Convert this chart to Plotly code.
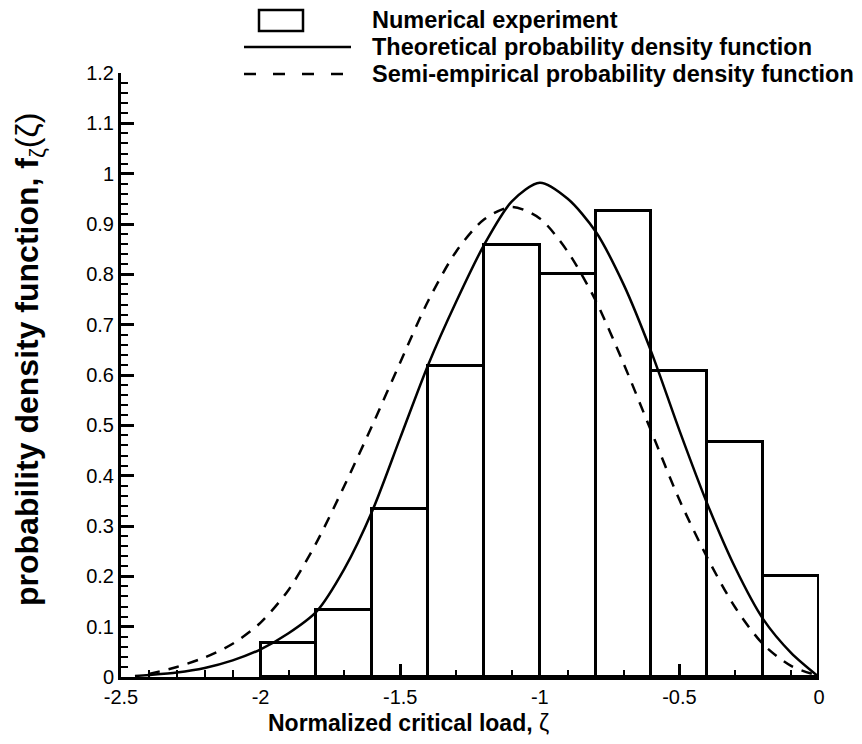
import plotly.graph_objects as go

# ---- data ----
bin_centers = [-1.9, -1.7, -1.5, -1.3, -1.1, -0.9, -0.7, -0.5, -0.3, -0.1]
bin_width = 0.2
bar_density = [0.067, 0.133, 0.333, 0.617, 0.858, 0.800, 0.925, 0.608, 0.467, 0.200]

theory_x = [-2.45, -2.4, -2.3, -2.2, -2.1, -2.0, -1.9, -1.8, -1.7, -1.6, -1.5, -1.4, -1.3,
            -1.2, -1.1, -1.0, -0.9, -0.8, -0.7, -0.6, -0.5, -0.4, -0.3, -0.2, -0.1, 0.0]
theory_y = [0.002, 0.004, 0.009, 0.018, 0.033, 0.055, 0.087, 0.130, 0.215, 0.330, 0.475, 0.620,
            0.745, 0.858, 0.945, 0.982, 0.950, 0.885, 0.780, 0.645, 0.490, 0.344, 0.217, 0.115,
            0.048, 0.0]

semi_x = [-2.4, -2.3, -2.2, -2.1, -2.0, -1.9, -1.8, -1.7, -1.6, -1.5, -1.4, -1.3, -1.2,
          -1.1, -1.0, -0.9, -0.8, -0.7, -0.6, -0.5, -0.4, -0.3, -0.2, -0.1, 0.0]
semi_y = [0.006, 0.020, 0.039, 0.066, 0.108, 0.173, 0.267, 0.380, 0.500, 0.625, 0.747, 0.845,
          0.909, 0.934, 0.911, 0.845, 0.748, 0.623, 0.487, 0.352, 0.237, 0.138, 0.065, 0.022,
          0.002]

x_tick_vals = [-2.5, -2.0, -1.5, -1.0, -0.5, 0.0]
x_tick_text = ["-2.5", "-2", "-1.5", "-1", "-0.5", "0"]
y_tick_vals = [0, 0.1, 0.2, 0.3, 0.4, 0.5, 0.6, 0.7, 0.8, 0.9, 1.0, 1.1, 1.2]
y_tick_text = ["0", "0.1", "0.2", "0.3", "0.4", "0.5", "0.6", "0.7", "0.8", "0.9", "1", "1.1", "1.2"]

legend_labels = ["Numerical experiment",
                 "Theoretical probability density function",
                 "Semi-empirical probability density function"]

FONT = "Liberation Sans, Arial, sans-serif"

fig = go.Figure()
fig.add_trace(go.Bar(
    x=bin_centers, y=bar_density, width=bin_width,
    marker=dict(color="white", line=dict(color="black", width=3)),
    showlegend=False))
fig.add_trace(go.Scatter(
    x=theory_x, y=theory_y, mode="lines",
    line=dict(color="black", width=2.5, shape="spline", smoothing=0.8), showlegend=False))
fig.add_trace(go.Scatter(
    x=semi_x, y=semi_y, mode="lines",
    line=dict(color="black", width=2.5, shape="spline", smoothing=0.8, dash="11px,9px"),
    showlegend=False))

W, H = 862, 744
L, R, T, B = 113, 51, 65, 75
pw, ph = W - L - R, H - T - B


def px(x):
    return (x - L) / pw


def py(y):
    return (H - B - y) / ph


# manual legend
shapes = [
    dict(type="rect", xref="paper", yref="paper", x0=px(251), x1=px(295), y0=py(23), y1=py(2),
         line=dict(color="black", width=2.5), fillcolor="white"),
    dict(type="line", xref="paper", yref="paper", x0=px(236), x1=px(343), y0=py(39), y1=py(39),
         line=dict(color="black", width=2.5)),
    dict(type="line", xref="paper", yref="paper", x0=px(236), x1=px(343), y0=py(66), y1=py(66),
         line=dict(color="black", width=2.5, dash="12px,17px")),
]
annotations = []
for lab, yy in zip(legend_labels, [12, 39, 66]):
    annotations.append(dict(xref="paper", yref="paper", x=px(362), y=py(yy), text="<b>%s</b>" % lab,
                            showarrow=False, xanchor="left", yanchor="middle",
                            font=dict(family=FONT, size=23.5, color="black")))
annotations.append(dict(xref="paper", yref="paper", x=px(400), y=py(715),
                        text="<b>Normalized critical load,</b> ζ", showarrow=False,
                        xanchor="center", yanchor="middle",
                        font=dict(family=FONT, size=23, color="black")))
annotations.append(dict(xref="paper", yref="paper", x=px(21), y=py(352),
                        text="<b>probability density function, f</b><sub>ζ</sub>(ζ)", showarrow=False,
                        textangle=-90, xanchor="center", yanchor="middle",
                        font=dict(family=FONT, size=32, color="black")))

axis_common = dict(showgrid=False, zeroline=False, showline=True, linecolor="black", linewidth=3,
                   ticks="inside", tickcolor="black", tickwidth=3, ticklen=13,
                   tickfont=dict(family=FONT, size=20, color="black"), mirror=False)

fig.update_layout(
    width=W, height=H,
    margin=dict(l=L, r=R, t=T, b=B, autoexpand=False),
    paper_bgcolor="white", plot_bgcolor="white",
    bargap=0, showlegend=False,
    shapes=shapes, annotations=annotations,
    xaxis=dict(range=[-2.5, 0], tickvals=x_tick_vals, ticktext=x_tick_text,
               minor=dict(dtick=0.1, tick0=0, ticks="inside", ticklen=7, tickwidth=1.5,
                          tickcolor="black"),
               **axis_common),
    yaxis=dict(range=[0, 1.2], tickvals=y_tick_vals, ticktext=y_tick_text,
               minor=dict(dtick=0.02, tick0=0, ticks="inside", ticklen=7, tickwidth=1.5,
                          tickcolor="black"),
               **axis_common),
)

fig.write_html("out.html")
